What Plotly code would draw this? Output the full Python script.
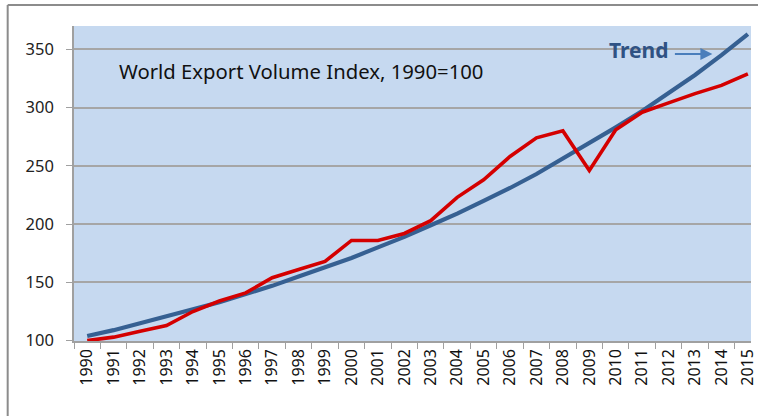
import plotly.graph_objects as go

years = [str(y) for y in range(1990, 2016)]
export_index = [100, 103, 108, 113, 125, 134, 141, 154, 161, 168, 186, 186, 192, 203,
                223, 238, 258, 274, 280, 246, 281, 296, 304, 312, 319, 329]
trend = [104, 109, 115, 121, 127, 133, 140, 147, 155, 163, 171, 180, 189, 199,
         209, 220, 231, 243, 256, 269, 283, 297, 312, 328, 345, 363]
y_ticks = [100, 150, 200, 250, 300, 350]

W, H = 758, 416
L, T, B = 74, 26, 75
pw, ph = W - L, H - T - B

fig = go.Figure()
fig.add_trace(go.Scatter(x=years, y=trend, mode="lines",
                         line=dict(color="rgb(54,96,146)", width=4.2), name="Trend"))
fig.add_trace(go.Scatter(x=years, y=export_index, mode="lines",
                         line=dict(color="rgb(212,0,0)", width=3.6), name="Index"))

fig.update_layout(
    width=W, height=H,
    margin=dict(l=L, r=0, t=T, b=B),
    paper_bgcolor="white", plot_bgcolor="rgb(198,217,240)",
    showlegend=False,
    font=dict(family="Noto Sans", color="#222"),
)
fig.update_xaxes(
    type="category", range=[-0.5, -0.5 + pw / 26.7],
    tickangle=-90, tickson="boundaries", ticks="outside", ticklen=6,
    tickcolor="#a0a0a0", showgrid=False, showline=True, linecolor="#a0a0a0",
    linewidth=1.5, tickfont=dict(size=16, color="#111"),
)
fig.update_yaxes(
    range=[99.7, 370], tickvals=y_ticks, ticks="outside", ticklen=6,
    tickcolor="#a0a0a0", showgrid=True, gridcolor="#a6a6a6", gridwidth=1.5,
    showline=True, linecolor="#a0a0a0", linewidth=1.5, zeroline=False,
    tickfont=dict(size=16.5, color="#222"), ticklabelstandoff=9,
)

# outer frame of the embedded chart
fx = (7 - L) / pw
fy = 1 + (T - 5) / ph
fig.add_shape(type="line", xref="paper", yref="paper", x0=fx, x1=fx, y0=fy, y1=-0.3,
              line=dict(color="#8c8c8c", width=2))
fig.add_shape(type="line", xref="paper", yref="paper", x0=fx, x1=1.05, y0=fy, y1=fy,
              line=dict(color="#8c8c8c", width=2))

fig.add_annotation(xref="paper", yref="paper", x=(117 - L) / pw, y=(H - B - 71) / ph,
                   xanchor="left", yanchor="middle", showarrow=False,
                   text="World Export Volume Index, 1990=100",
                   font=dict(size=20.3, color="#111", family="Noto Sans"))
fig.add_annotation(xref="paper", yref="paper", x=(613 - L) / pw, y=(H - B - 50) / ph,
                   xanchor="left", yanchor="middle", showarrow=False,
                   text="<b>Trend</b>",
                   font=dict(size=21, color="rgb(47,82,132)", family="Noto Sans"))
fig.add_annotation(xref="paper", yref="paper", x=(719 - L) / pw, y=(H - B - 54) / ph,
                   showarrow=True, text="", ax=-39, ay=0, arrowhead=2, arrowsize=1.2,
                   arrowwidth=2, arrowcolor="rgb(74,126,187)")

fig.write_html(
    "out.html",
    config={"displayModeBar": False},
    post_script=("document.documentElement.style.overflow='hidden';"
                 "document.body.style.overflow='hidden';"
                 "document.body.style.margin='0';"),
)
